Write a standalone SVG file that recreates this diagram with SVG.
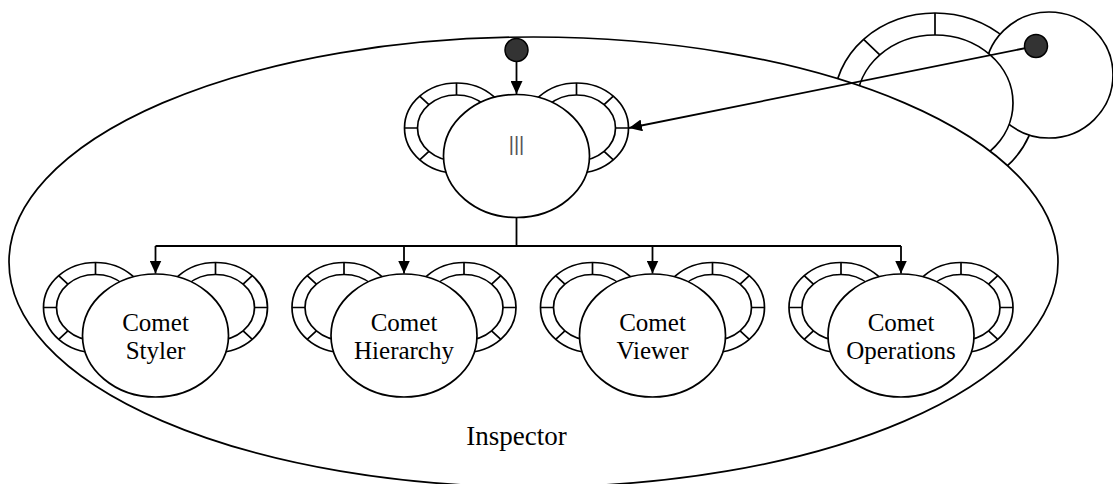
<svg xmlns="http://www.w3.org/2000/svg" xmlns:xlink="http://www.w3.org/1999/xlink" width="1113" height="484" viewBox="0 0 1113 484">
<style>
.s{fill:#fff;stroke:#000;stroke-width:1.7}
.t{stroke:#000;stroke-width:1.7;fill:none}
.c{stroke:#000;stroke-width:1.8;fill:none}
.lbl{font-family:"Liberation Serif","Times New Roman",serif;font-size:25px;fill:#000;text-anchor:middle}
.big{font-size:27px}
.dot{fill:#333;stroke:#000;stroke-width:1.5}
</style>
<defs>
<marker id="ah" markerWidth="14" markerHeight="12" refX="13" refY="6" orient="auto" markerUnits="userSpaceOnUse">
<path d="M0,0 L13,6 L0,12 Z" fill="#000"/>
</marker>
<g id="nodeShape">
<ellipse class="s" cx="-60" cy="-28" rx="52" ry="45"/>
<ellipse class="s" cx="-60" cy="-28" rx="39" ry="33"/>
<path class="t" d="M-60,-73 L-60,-61 M-96.8,-59.8 L-87.6,-51.3 M-112,-28 L-99,-28 M-96.8,3.8 L-87.6,-4.7"/>
<ellipse class="s" cx="60" cy="-28" rx="52" ry="45"/>
<ellipse class="s" cx="60" cy="-28" rx="39" ry="33"/>
<path class="t" d="M60,-73 L60,-61 M96.8,-59.8 L87.6,-51.3 M112,-28 L99,-28 M96.8,3.8 L87.6,-4.7"/>
<ellipse class="s" cx="0" cy="0" rx="73" ry="61.5"/>
</g>
</defs>
<rect width="1113" height="484" fill="#fff"/>
<g id="outer-system">
<ellipse class="s" cx="935" cy="103" rx="101" ry="90"/>
<path class="t" d="M935,13 L935,35 M863.6,39.4 L879.8,54.9"/>
<ellipse class="s" cx="1049" cy="75" rx="64" ry="63"/>
<ellipse class="s" cx="935" cy="103" rx="78" ry="68"/>
</g>
<g id="inspector">
<ellipse class="s" cx="533.5" cy="262" rx="524.5" ry="225"/>
<text class="lbl big" x="516.5" y="445">Inspector</text>
</g>
<g id="node-parallel" transform="translate(516.5,156)">
<use xlink:href="#nodeShape"/>
<text x="0" y="-5" font-family="Liberation Sans, Arial, sans-serif" font-size="20" fill="#555" text-anchor="middle">|||</text>
</g>
<g id="node-styler" transform="translate(155.5,335.5)">
<use xlink:href="#nodeShape"/>
<text class="lbl" x="0" y="-5">Comet</text>
<text class="lbl" x="0" y="23">Styler</text>
</g>
<g id="node-hierarchy" transform="translate(404,335.5)">
<use xlink:href="#nodeShape"/>
<text class="lbl" x="0" y="-5">Comet</text>
<text class="lbl" x="0" y="23">Hierarchy</text>
</g>
<g id="node-viewer" transform="translate(652.5,335.5)">
<use xlink:href="#nodeShape"/>
<text class="lbl" x="0" y="-5">Comet</text>
<text class="lbl" x="0" y="23">Viewer</text>
</g>
<g id="node-operations" transform="translate(901,335.5)">
<use xlink:href="#nodeShape"/>
<text class="lbl" x="0" y="-5">Comet</text>
<text class="lbl" x="0" y="23">Operations</text>
</g>
<g id="connectors">
<path class="c" d="M516.5,61 L516.5,94" marker-end="url(#ah)"/>
<path class="c" d="M1036,46 L629,128" marker-end="url(#ah)"/>
<path class="c" d="M516.5,217.5 L516.5,246 M155.5,246 L901,246"/>
<path class="c" d="M155.5,246 L155.5,273.5" marker-end="url(#ah)"/>
<path class="c" d="M404,246 L404,273.5" marker-end="url(#ah)"/>
<path class="c" d="M652.5,246 L652.5,273.5" marker-end="url(#ah)"/>
<path class="c" d="M901,246 L901,273.5" marker-end="url(#ah)"/>
<circle class="dot" cx="516.5" cy="50" r="11.5"/>
<circle class="dot" cx="1036" cy="46" r="11.5"/>
</g>
</svg>
